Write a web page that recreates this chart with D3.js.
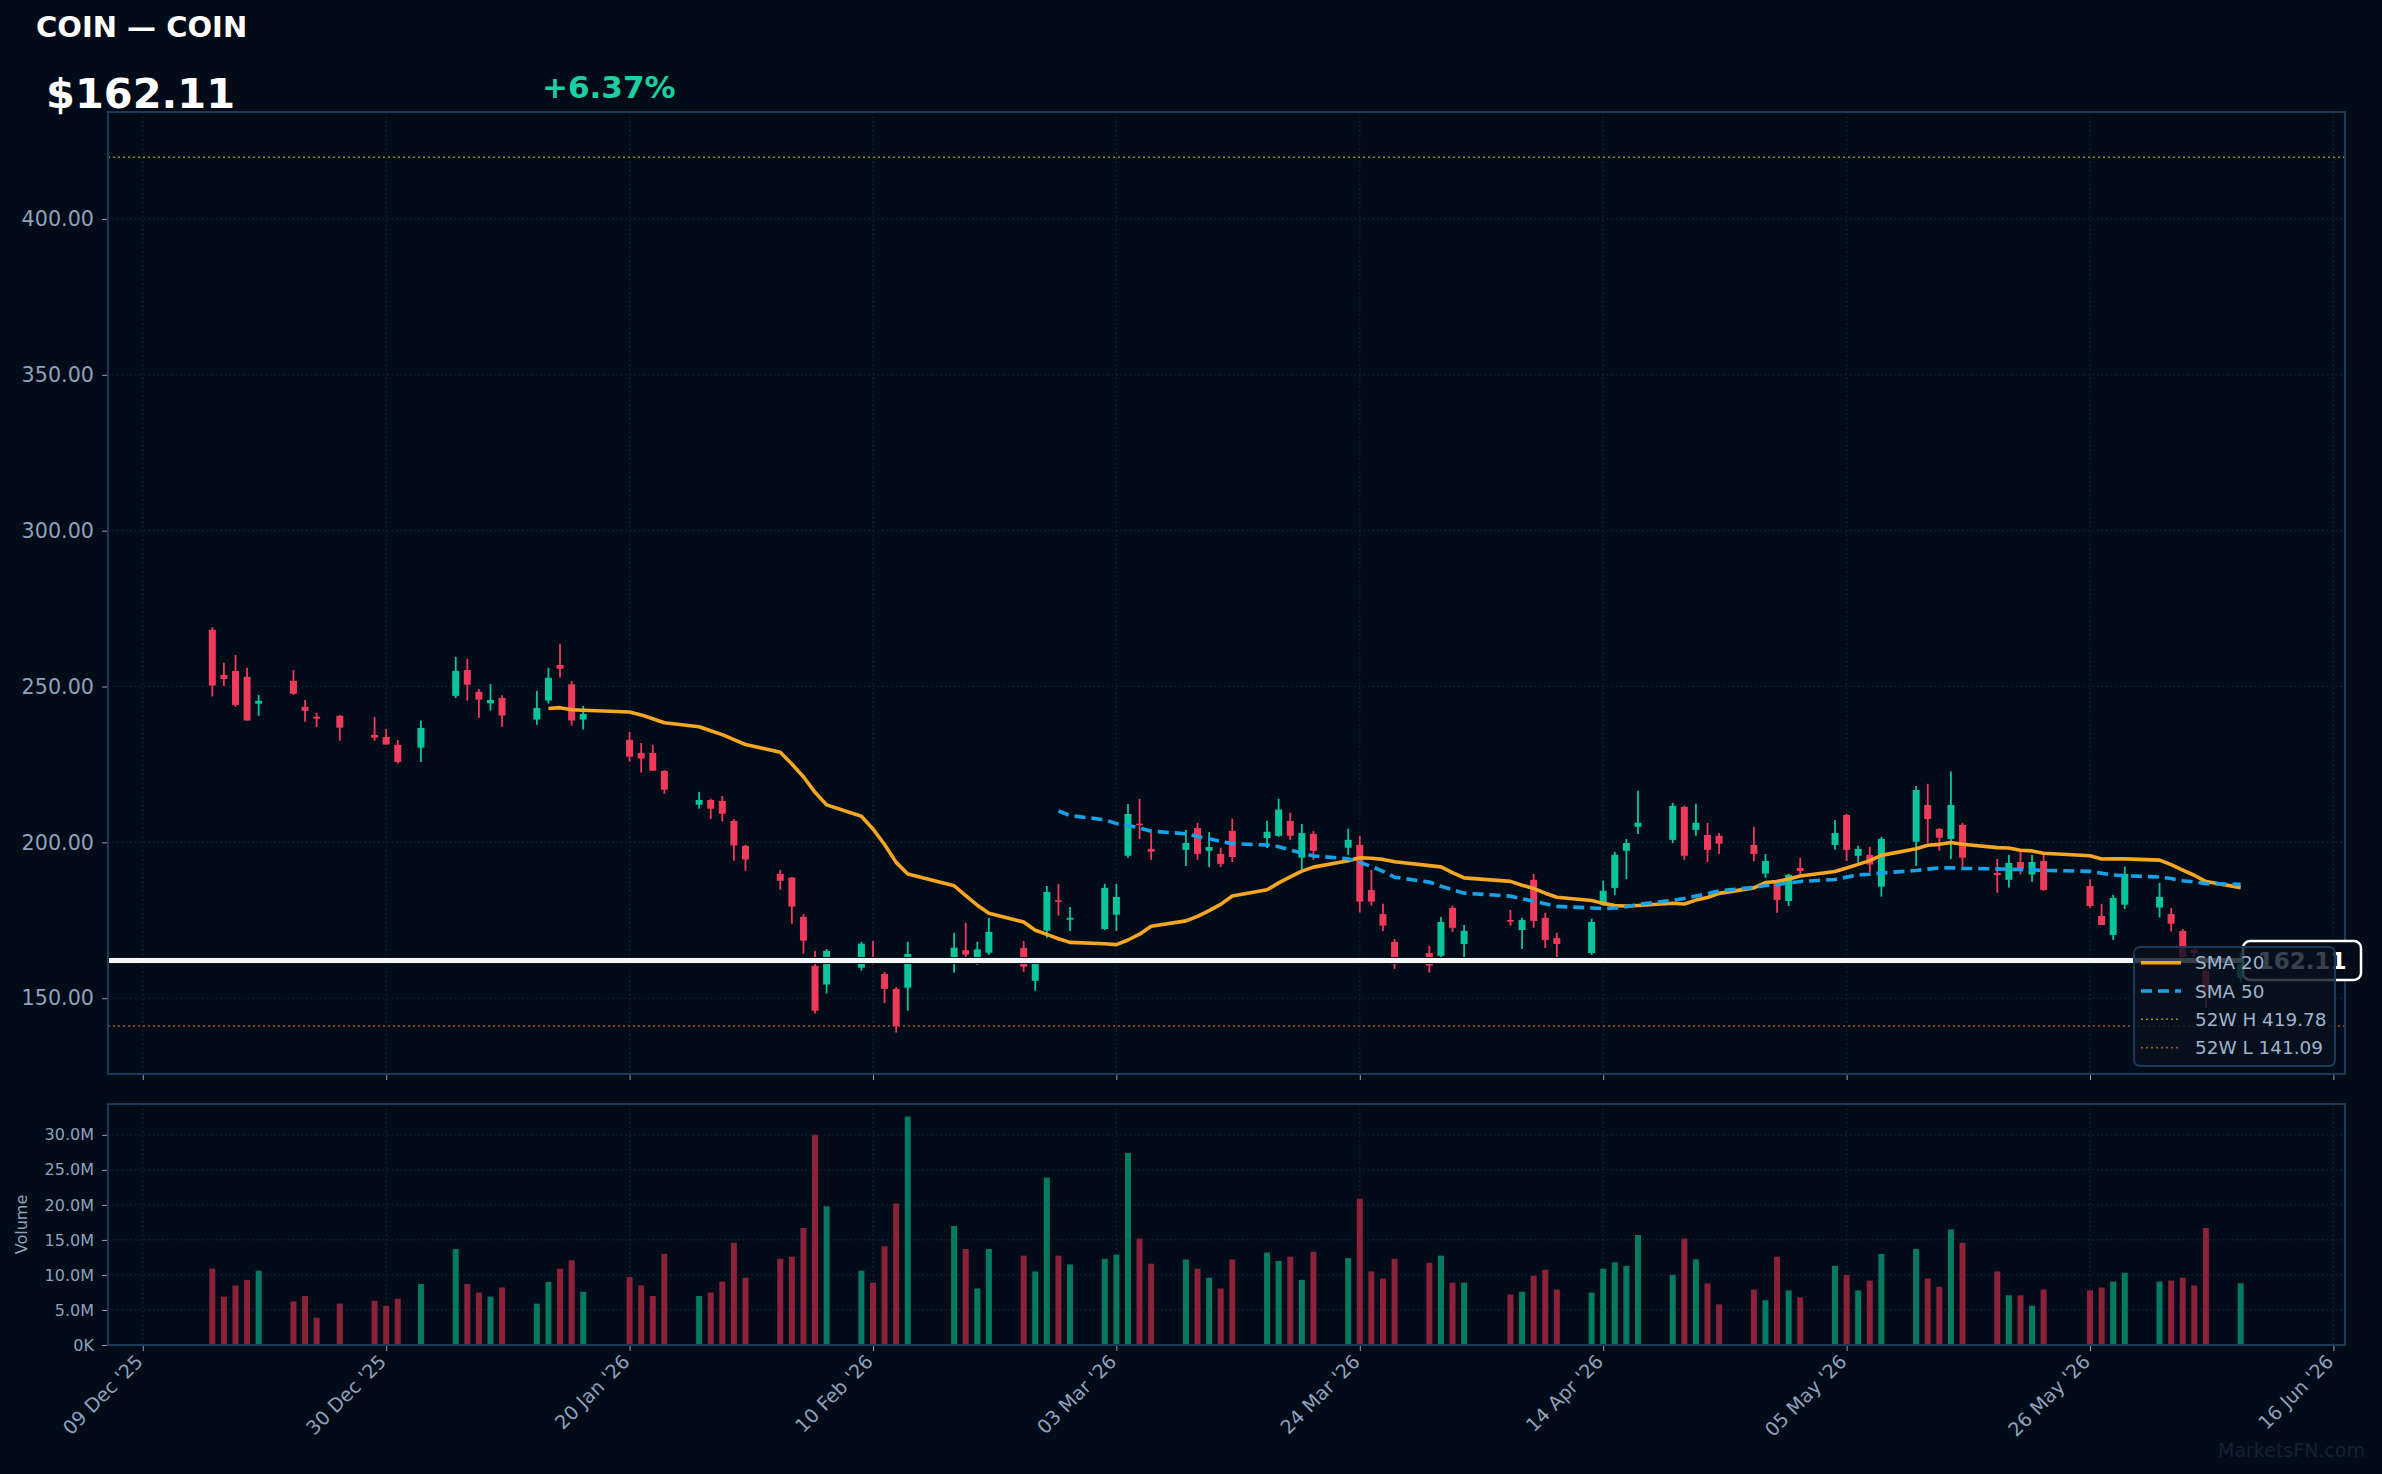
<!DOCTYPE html>
<html>
<head>
<meta charset="utf-8">
<script src="https://cdn.jsdelivr.net/npm/d3@7/dist/d3.min.js"></script>
<style>
  html, body { margin: 0; padding: 0; background: #020b18; }
  svg { display: block; font-family: 'DejaVu Sans', sans-serif; }
</style>
</head>
<body>
<div id="chart"></div>
<script>
// ---- data ----
var ticker = 'COIN';
var high52 = 419.78;
var low52 = 141.09;

var dates = [
  '2025-12-15','2025-12-16','2025-12-17','2025-12-18','2025-12-19','2025-12-22','2025-12-23','2025-12-24','2025-12-26','2025-12-29','2025-12-30','2025-12-31',
  '2026-01-02','2026-01-05','2026-01-06','2026-01-07','2026-01-08','2026-01-09','2026-01-12','2026-01-13','2026-01-14','2026-01-15','2026-01-16','2026-01-20','2026-01-21','2026-01-22','2026-01-23','2026-01-26','2026-01-27','2026-01-28','2026-01-29','2026-01-30',
  '2026-02-02','2026-02-03','2026-02-04','2026-02-05','2026-02-06','2026-02-09','2026-02-10','2026-02-11','2026-02-12','2026-02-13','2026-02-17','2026-02-18','2026-02-19','2026-02-20','2026-02-23','2026-02-24','2026-02-25','2026-02-26','2026-02-27',
  '2026-03-02','2026-03-03','2026-03-04','2026-03-05','2026-03-06','2026-03-09','2026-03-10','2026-03-11','2026-03-12','2026-03-13','2026-03-16','2026-03-17','2026-03-18','2026-03-19','2026-03-20','2026-03-23','2026-03-24','2026-03-25','2026-03-26','2026-03-27','2026-03-30','2026-03-31',
  '2026-04-01','2026-04-02','2026-04-06','2026-04-07','2026-04-08','2026-04-09','2026-04-10','2026-04-13','2026-04-14','2026-04-15','2026-04-16','2026-04-17','2026-04-20','2026-04-21','2026-04-22','2026-04-23','2026-04-24','2026-04-27','2026-04-28','2026-04-29','2026-04-30',
  '2026-05-01','2026-05-04','2026-05-05','2026-05-06','2026-05-07','2026-05-08','2026-05-11','2026-05-12','2026-05-13','2026-05-14','2026-05-15','2026-05-18','2026-05-19','2026-05-20','2026-05-21','2026-05-22','2026-05-26','2026-05-27','2026-05-28','2026-05-29',
  '2026-06-01','2026-06-02','2026-06-03','2026-06-04','2026-06-05','2026-06-08'
];

var opens = [
  268.2,253.7,255.0,253.1,244.5,251.8,243.5,240.3,240.6,234.5,233.8,231.3,
  230.4,247.0,255.3,248.3,244.6,246.3,239.4,245.5,256.9,250.7,239.4,232.9,228.7,228.7,222.9,212.1,213.6,213.3,206.9,198.9,
  189.9,188.7,176.1,160.4,154.4,159.8,162.8,157.8,153.0,153.4,162.8,165.4,161.6,164.6,166.1,155.6,171.7,181.4,175.2,
  172.2,176.8,195.7,206.0,197.9,197.6,204.6,197.3,196.3,203.7,201.4,202.1,206.9,195.1,202.7,198.3,199.2,184.7,177.0,168.1,164.5,163.6,
  179.0,167.4,175.1,171.9,188.0,175.8,169.3,164.5,180.0,185.4,197.3,205.0,200.8,211.4,204.0,202.4,202.1,199.2,190.0,187.6,181.2,
  191.8,199.2,208.8,195.7,196.0,185.8,200.2,212.0,204.3,201.1,205.6,190.2,188.0,193.7,189.7,194.0,186.0,176.4,170.3,180.0,
  179.1,177.0,171.6,165.5,158.8,156.5
];
var highs = [
  269.0,257.6,260.1,256.0,247.3,255.3,245.7,241.5,240.9,240.2,236.4,232.9,
  239.0,259.5,258.9,249.2,250.8,247.2,248.6,256.0,263.7,251.8,243.8,235.4,231.9,231.3,223.2,216.2,214.0,214.9,207.5,199.2,
  191.2,188.9,177.0,165.2,165.8,168.1,168.4,158.5,153.6,168.1,171.0,174.2,168.1,175.8,168.4,162.5,186.0,186.7,179.3,
  186.7,186.7,212.3,214.0,203.0,204.0,206.3,203.3,198.3,207.6,206.9,214.0,209.5,205.9,203.7,204.4,202.1,191.2,180.3,169.0,166.8,176.1,
  179.7,173.5,178.3,175.8,189.9,177.4,171.0,175.5,187.7,197.0,201.1,216.6,212.7,211.8,212.4,206.3,203.0,205.0,196.3,188.0,189.9,
  195.0,207.2,209.2,198.9,198.6,201.8,218.1,218.8,204.6,222.7,206.3,194.7,196.0,197.0,196.0,196.0,188.2,180.3,183.2,192.2,
  187.0,179.0,172.2,166.5,159.5,164.6
];
var lows = [
  246.8,250.2,243.5,239.1,240.6,247.3,238.7,237.0,232.6,232.6,231.4,225.3,
  225.8,246.3,245.5,240.0,242.3,237.1,237.7,244.5,252.9,237.5,236.2,225.9,222.4,223.0,215.6,210.8,207.5,206.7,194.1,190.9,
  184.8,173.9,164.3,145.1,151.5,158.9,160.8,148.5,139.0,146.0,158.2,163.0,160.7,163.9,158.5,152.4,169.4,176.5,171.6,
  171.9,171.6,195.1,201.1,194.4,192.4,194.4,192.1,192.1,193.7,198.2,201.8,200.8,190.7,194.4,196.0,177.5,179.7,171.6,159.4,158.2,162.5,
  171.3,163.2,173.3,165.8,172.6,166.1,162.9,163.9,179.6,183.1,188.2,202.7,199.8,194.4,202.1,193.7,196.3,193.9,188.6,177.4,179.6,
  189.6,197.6,194.0,193.5,190.3,182.6,192.4,199.8,197.3,194.7,192.2,183.8,185.5,189.7,187.4,184.5,179.0,173.5,168.7,178.7,
  175.9,171.4,163.2,163.3,147.0,155.0
];
var closes = [
  250.3,252.4,244.1,239.1,245.4,247.7,242.2,239.7,236.8,233.6,231.4,225.8,
  236.7,255.0,250.6,245.8,245.7,240.7,243.1,252.8,255.7,239.1,241.2,227.5,226.9,223.0,216.9,213.6,210.8,209.2,199.0,194.5,
  187.7,179.4,168.5,146.0,165.2,167.5,161.6,153.0,141.09,164.2,166.2,164.0,165.7,171.3,160.1,161.5,184.1,181.0,175.8,
  185.4,182.5,209.1,205.6,197.0,199.8,196.3,198.5,193.1,195.3,203.4,210.5,202.1,203.0,197.3,200.8,181.0,181.0,173.3,160.9,160.5,174.5,
  172.6,171.6,174.6,175.1,174.8,168.7,167.4,174.5,184.5,196.0,199.8,206.3,211.7,195.7,206.3,197.6,199.6,196.3,194.0,181.5,189.6,
  190.8,203.0,197.6,197.9,192.9,201.1,216.8,207.5,201.5,212.0,195.1,189.5,193.4,191.6,193.7,184.7,179.6,173.5,182.2,189.9,
  182.5,173.9,163.2,164.5,152.4,162.11
];
// volume in millions
var volumes = [
  10.9,6.9,8.5,9.3,10.6,6.2,7.0,3.9,5.9,6.3,5.6,6.6,
  8.7,13.7,8.7,7.5,6.9,8.2,5.9,9.0,10.9,12.1,7.6,9.7,8.5,7.0,13.0,7.0,7.5,9.05,14.6,9.6,
  12.3,12.6,16.7,30.0,19.8,10.6,8.9,14.1,20.2,32.6,17.0,13.7,8.06,13.7,12.75,10.5,23.9,12.75,11.5,
  12.3,12.9,27.4,15.2,11.6,12.2,10.9,9.6,8.06,12.2,13.2,12.0,12.6,9.3,13.3,12.4,20.9,10.5,9.5,12.3,11.75,12.75,
  8.9,8.9,7.2,7.6,9.9,10.75,7.9,7.5,10.9,11.8,11.3,15.7,10.0,15.2,12.2,8.8,5.8,7.9,6.4,12.6,7.8,
  6.8,11.3,10.0,7.8,9.2,13.0,13.7,9.5,8.3,16.5,14.6,10.5,7.1,7.1,5.6,7.9,7.8,8.2,9.05,10.3,
  9.05,9.2,9.6,8.5,16.7,8.8
];

var priceDomain = [125.7, 434.3];
var priceTicks = [150, 200, 250, 300, 350, 400];
var volDomain = [0, 34.4];
var volTicks = [0, 5, 10, 15, 20, 25, 30];
var xDomain = ['2025-12-06', '2026-06-17'];
var xTickDates = ['2025-12-09','2025-12-30','2026-01-20','2026-02-10','2026-03-03','2026-03-24','2026-04-14','2026-05-05','2026-05-26','2026-06-16'];
var xTickLabels = ["09 Dec '25","30 Dec '25","20 Jan '26","10 Feb '26","03 Mar '26","24 Mar '26","14 Apr '26","05 May '26","26 May '26","16 Jun '26"];

(function() {
    'use strict';

    var W = 2382, H = 1474;
    var colors = {
        bg: '#020b18',
        frame: '#1e3857',
        grid: '#16273a',
        tick: '#8ea2bd',
        up: '#0ac59b',
        down: '#f03a5c',
        upVol: '#047a60',
        downVol: '#8c2239',
        sma20: '#f5a623',
        sma50: '#17a2e8',
        hi52: '#8f8f22',
        lo52: '#a5512e'
    };

    var main = { left: 108, top: 112, right: 2345, bottom: 1074 };
    var vol = { left: 108, top: 1104, right: 2345, bottom: 1345 };

    var parse = d3.utcParse('%Y-%m-%d');
    var rows = dates.map(function(d, i) {
        return { date: parse(d), o: opens[i], h: highs[i], l: lows[i], c: closes[i], v: volumes[i] };
    });

    function sma(n) {
        var out = [];
        for (var i = n - 1; i < rows.length; i++) {
            var s = 0;
            for (var k = i - n + 1; k <= i; k++) s += rows[k].c;
            out.push({ date: rows[i].date, v: s / n });
        }
        return out;
    }

    var x = d3.scaleUtc().domain(xDomain.map(parse)).range([main.left, main.right]);
    var y = d3.scaleLinear().domain(priceDomain).range([main.bottom, main.top]);
    var yv = d3.scaleLinear().domain(volDomain).range([vol.bottom, vol.top]);

    var svg = d3.select('#chart').append('svg')
        .attr('width', W).attr('height', H)
        .attr('viewBox', [0, 0, W, H].join(' '));

    svg.append('rect').attr('width', W).attr('height', H).attr('fill', colors.bg);

    // Header
    svg.append('text').attr('x', 36).attr('y', 37)
        .attr('fill', '#ffffff').attr('font-weight', 700).attr('font-size', 29)
        .text(ticker + ' \u2014 ' + ticker);
    var last = closes[closes.length - 1];
    var prev = closes[closes.length - 2];
    var chg = (last / prev - 1) * 100;
    svg.append('text').attr('x', 46).attr('y', 108)
        .attr('fill', '#ffffff').attr('font-weight', 700).attr('font-size', 41.5)
        .text('$' + last.toFixed(2));
    svg.append('text').attr('x', 542).attr('y', 98)
        .attr('fill', chg >= 0 ? '#1ccfa3' : colors.down).attr('font-weight', 700).attr('font-size', 31)
        .text((chg >= 0 ? '+' : '') + chg.toFixed(2) + '%');

    var xTicks = xTickDates.map(parse);

    // ---- price panel ----
    var gMain = svg.append('g');

    gMain.selectAll('.hgrid').data(priceTicks).join('line')
        .attr('x1', main.left).attr('x2', main.right)
        .attr('y1', function(d) { return y(d); }).attr('y2', function(d) { return y(d); })
        .attr('stroke', colors.grid).attr('stroke-width', 1.2).attr('stroke-dasharray', '1.5,3');
    gMain.selectAll('.vgrid').data(xTicks).join('line')
        .attr('x1', function(d) { return x(d); }).attr('x2', function(d) { return x(d); })
        .attr('y1', main.top).attr('y2', main.bottom)
        .attr('stroke', colors.grid).attr('stroke-width', 1.2).attr('stroke-dasharray', '1.5,3');

    var yAxis = d3.axisLeft(y).tickValues(priceTicks).tickFormat(d3.format('.2f')).tickSize(6).tickPadding(8);
    gMain.append('g').attr('transform', 'translate(' + main.left + ',0)').call(yAxis)
        .call(function(g) {
            g.select('.domain').remove();
            g.selectAll('line').attr('stroke', colors.tick);
            g.selectAll('text').attr('fill', colors.tick).attr('font-size', 20.7).attr('font-family', 'DejaVu Sans');
        });
    var xAxisMain = d3.axisBottom(x).tickValues(xTicks).tickFormat('').tickSize(6);
    gMain.append('g').attr('transform', 'translate(0,' + main.bottom + ')').call(xAxisMain)
        .call(function(g) {
            g.select('.domain').remove();
            g.selectAll('line').attr('stroke', colors.tick);
        });

    var plot = gMain.append('g');

    // 52 week lines
    plot.append('line').attr('x1', main.left).attr('x2', main.right)
        .attr('y1', y(high52)).attr('y2', y(high52))
        .attr('stroke', colors.hi52).attr('stroke-width', 1.6).attr('stroke-dasharray', '2,3');
    plot.append('line').attr('x1', main.left).attr('x2', main.right)
        .attr('y1', y(low52)).attr('y2', y(low52))
        .attr('stroke', colors.lo52).attr('stroke-width', 1.6).attr('stroke-dasharray', '2,3');

    // candles
    var bodyW = 7;
    var candles = plot.selectAll('.candle').data(rows).join('g');
    candles.append('line')
        .attr('x1', function(d) { return x(d.date); }).attr('x2', function(d) { return x(d.date); })
        .attr('y1', function(d) { return y(d.h); }).attr('y2', function(d) { return y(d.l); })
        .attr('stroke', function(d) { return d.c >= d.o ? colors.up : colors.down; })
        .attr('stroke-width', 1.8);
    candles.append('rect')
        .attr('x', function(d) { return x(d.date) - bodyW / 2; })
        .attr('width', bodyW)
        .attr('y', function(d) { return y(Math.max(d.o, d.c)); })
        .attr('height', function(d) { return Math.max(1.5, Math.abs(y(d.o) - y(d.c))); })
        .attr('fill', function(d) { return d.c >= d.o ? colors.up : colors.down; });

    // moving averages
    var line = d3.line().x(function(d) { return x(d.date); }).y(function(d) { return y(d.v); });
    plot.append('path').datum(sma(20)).attr('d', line)
        .attr('fill', 'none').attr('stroke', colors.sma20).attr('stroke-width', 3.6)
        .attr('stroke-linejoin', 'round');
    plot.append('path').datum(sma(50)).attr('d', line)
        .attr('fill', 'none').attr('stroke', colors.sma50).attr('stroke-width', 3.6)
        .attr('stroke-dasharray', '11,6');

    // last price line
    plot.append('line').attr('x1', main.left).attr('x2', main.right)
        .attr('y1', y(last)).attr('y2', y(last))
        .attr('stroke', '#0b1420').attr('stroke-width', 7);
    plot.append('line').attr('x1', main.left).attr('x2', main.right)
        .attr('y1', y(last)).attr('y2', y(last))
        .attr('stroke', '#f4f6f8').attr('stroke-width', 5);

    // frame
    gMain.append('rect').attr('x', main.left).attr('y', main.top)
        .attr('width', main.right - main.left).attr('height', main.bottom - main.top)
        .attr('fill', 'none').attr('stroke', colors.frame).attr('stroke-width', 2);

    // price tag
    var tag = svg.append('g').attr('transform', 'translate(2302,' + y(last) + ')');
    tag.append('rect').attr('x', -59).attr('y', -19.5).attr('width', 118).attr('height', 39).attr('rx', 7)
        .attr('fill', colors.bg).attr('stroke', '#ffffff').attr('stroke-width', 2.5);
    tag.append('text').attr('text-anchor', 'middle').attr('y', 8.5)
        .attr('fill', '#ffffff').attr('font-weight', 700).attr('font-size', 23)
        .text(last.toFixed(2));

    // legend
    var legendItems = [
        { label: 'SMA 20', color: colors.sma20, dash: null, w: 3.6 },
        { label: 'SMA 50', color: colors.sma50, dash: '11,6', w: 3.6 },
        { label: '52W H ' + high52.toFixed(2), color: colors.hi52, dash: '2,3', w: 1.6 },
        { label: '52W L ' + low52.toFixed(2), color: colors.lo52, dash: '2,3', w: 1.6 }
    ];
    var lg = svg.append('g');
    lg.append('rect').attr('x', 2134).attr('y', 947).attr('width', 201).attr('height', 119).attr('rx', 6)
        .attr('fill', '#07111f').attr('fill-opacity', 0.8)
        .attr('stroke', '#1e3857').attr('stroke-width', 2);
    legendItems.forEach(function(it, i) {
        var cy = 962.7 + i * 28.3;
        lg.append('line').attr('x1', 2141).attr('x2', 2181).attr('y1', cy).attr('y2', cy)
            .attr('stroke', it.color).attr('stroke-width', it.w)
            .attr('stroke-dasharray', it.dash);
        lg.append('text').attr('x', 2195).attr('y', cy + 6.5)
            .attr('fill', '#9fb3cc').attr('font-size', 18.4)
            .text(it.label);
    });

    // ---- volume panel ----
    var gVol = svg.append('g');
    gVol.selectAll('.hgrid').data(volTicks).join('line')
        .attr('x1', vol.left).attr('x2', vol.right)
        .attr('y1', function(d) { return yv(d); }).attr('y2', function(d) { return yv(d); })
        .attr('stroke', colors.grid).attr('stroke-width', 1.2).attr('stroke-dasharray', '1.5,3');
    gVol.selectAll('.vgrid').data(xTicks).join('line')
        .attr('x1', function(d) { return x(d); }).attr('x2', function(d) { return x(d); })
        .attr('y1', vol.top).attr('y2', vol.bottom)
        .attr('stroke', colors.grid).attr('stroke-width', 1.2).attr('stroke-dasharray', '1.5,3');

    var barW = 6;
    gVol.selectAll('.vbar').data(rows).join('rect')
        .attr('x', function(d) { return x(d.date) - barW / 2; })
        .attr('width', barW)
        .attr('y', function(d) { return yv(d.v); })
        .attr('height', function(d) { return yv(0) - yv(d.v); })
        .attr('fill', function(d) { return d.c >= d.o ? colors.upVol : colors.downVol; });

    var yvAxis = d3.axisLeft(yv).tickValues(volTicks)
        .tickFormat(function(d) { return d === 0 ? '0K' : d.toFixed(1) + 'M'; })
        .tickSize(6).tickPadding(8);
    gVol.append('g').attr('transform', 'translate(' + vol.left + ',0)').call(yvAxis)
        .call(function(g) {
            g.select('.domain').remove();
            g.selectAll('line').attr('stroke', colors.tick);
            g.selectAll('text').attr('fill', colors.tick).attr('font-size', 16).attr('font-family', 'DejaVu Sans');
        });

    var xAxis = d3.axisBottom(x).tickValues(xTicks)
        .tickFormat(function(d, i) { return xTickLabels[i]; }).tickSize(6);
    gVol.append('g').attr('transform', 'translate(0,' + vol.bottom + ')').call(xAxis)
        .call(function(g) {
            g.select('.domain').remove();
            g.selectAll('line').attr('stroke', colors.tick);
            g.selectAll('text')
                .attr('fill', colors.tick).attr('font-size', 19.2).attr('font-family', 'DejaVu Sans')
                .attr('text-anchor', 'end')
                .attr('dy', '0.35em')
                .attr('transform', 'translate(-4,13) rotate(-45)')
                .attr('y', 0).attr('x', 0);
        });

    gVol.append('rect').attr('x', vol.left).attr('y', vol.top)
        .attr('width', vol.right - vol.left).attr('height', vol.bottom - vol.top)
        .attr('fill', 'none').attr('stroke', colors.frame).attr('stroke-width', 2);

    svg.append('text').attr('transform', 'translate(27,' + ((vol.top + vol.bottom) / 2) + ') rotate(-90)')
        .attr('text-anchor', 'middle').attr('fill', colors.tick).attr('font-size', 16)
        .text('Volume');

    // watermark
    svg.append('text').attr('x', 2365).attr('y', 1457).attr('text-anchor', 'end')
        .attr('fill', '#142232').attr('font-size', 19)
        .text('MarketsFN.com');
})();
</script>
</body>
</html>
